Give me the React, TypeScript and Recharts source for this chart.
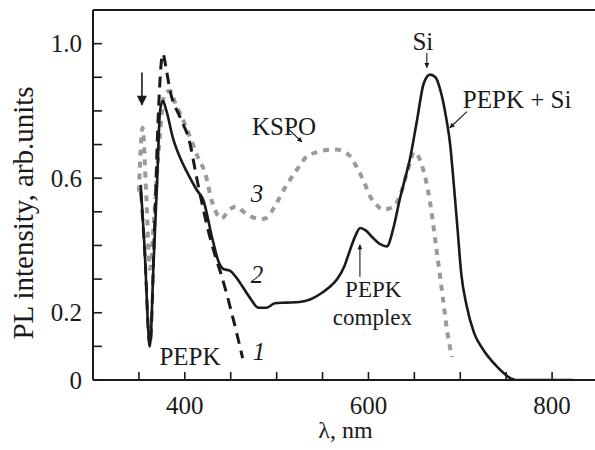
import React from 'react';
import { LineChart, Line, XAxis, YAxis, ReferenceLine, ReferenceDot } from 'recharts';

// ---- data ----
// curve 1: PEPK
const pepkNm = [352, 356, 362, 367, 371, 376, 380, 384, 395, 405, 413, 425, 433, 440, 451, 463];
const pepkPL = [0.56, 0.4, 0.1, 0.45, 0.78, 0.97, 0.92, 0.86, 0.78, 0.71, 0.6, 0.45, 0.37, 0.31, 0.2, 0.065];

// curve 2: PEPK + Si
const pepkSiNm = [352, 356, 362, 366, 370, 373, 376, 380, 387, 395, 402, 413, 420, 430, 437, 442, 449, 456, 463, 472, 480, 489, 498, 510, 525, 537, 547, 557, 566, 574, 580, 586, 591, 597, 604, 612, 620, 627, 634, 640, 645, 653, 660, 667, 673, 678, 685, 689, 693, 697, 701, 707, 715, 725, 740, 755, 760, 790, 823];
const pepkSiPL = [0.58, 0.4, 0.1, 0.35, 0.6, 0.8, 0.83, 0.8, 0.72, 0.66, 0.62, 0.565, 0.536, 0.42, 0.35, 0.33, 0.325, 0.305, 0.277, 0.24, 0.215, 0.215, 0.228, 0.23, 0.232, 0.24, 0.255, 0.275, 0.3, 0.34, 0.387, 0.43, 0.452, 0.445, 0.425, 0.405, 0.397, 0.45, 0.536, 0.6, 0.655, 0.774, 0.88, 0.908, 0.9, 0.865, 0.774, 0.7, 0.58, 0.45, 0.318, 0.22, 0.14, 0.09, 0.04, 0.005, 0, 0, 0];

// curve 3: KSPO
const kspoNm = [350, 354, 358, 362, 367, 372, 378, 384, 390, 398, 406, 414, 422, 430, 440, 448, 456, 464, 473, 482, 489, 500, 511, 522, 533, 545, 555, 565, 572, 580, 587, 595, 602, 609, 616, 627, 634, 642, 650, 658, 667, 674, 681, 686, 691];
const kspoPL = [0.56, 0.75, 0.55, 0.33, 0.5, 0.7, 0.85, 0.86, 0.82, 0.774, 0.72, 0.664, 0.616, 0.527, 0.48, 0.505, 0.516, 0.5, 0.485, 0.478, 0.482, 0.527, 0.58, 0.625, 0.665, 0.678, 0.684, 0.685, 0.68, 0.665, 0.634, 0.59, 0.545, 0.52, 0.506, 0.515, 0.545, 0.616, 0.678, 0.64, 0.53, 0.39, 0.245, 0.14, 0.068];

const xTicks = [350, 400, 450, 500, 550, 600, 650, 700, 750, 800];
const xTickLabels: Record<number, string> = { 400: '400', 600: '600', 800: '800' };
const yTicks = [0, 0.1, 0.2, 0.3, 0.4, 0.5, 0.6, 0.7, 0.8, 0.9, 1.0];
const yTickLabels = [
  { v: 0, t: '0' },
  { v: 0.2, t: '0.2' },
  { v: 0.6, t: '0.6' },
  { v: 1.0, t: '1.0' },
];

// annotation texts (anchored in data coordinates)
const notes = [
  { text: 'KSPO', nm: 508, pl: 0.729, anchor: 'middle', italic: false, size: 25 },
  { text: '3', nm: 478.5, pl: 0.53, anchor: 'middle', italic: true, size: 25 },
  { text: '2', nm: 478.5, pl: 0.289, anchor: 'middle', italic: true, size: 25 },
  { text: '1', nm: 480.7, pl: 0.06, anchor: 'middle', italic: true, size: 25 },
  { text: 'PEPK', nm: 405.6, pl: 0.045, anchor: 'middle', italic: false, size: 25 },
  { text: 'PEPK', nm: 605.2, pl: 0.247, anchor: 'middle', italic: false, size: 23 },
  { text: 'complex', nm: 604.3, pl: 0.164, anchor: 'middle', italic: false, size: 23 },
  { text: 'Si', nm: 659.3, pl: 0.982, anchor: 'middle', italic: false, size: 25 },
  { text: 'PEPK + Si', nm: 702.8, pl: 0.81, anchor: 'start', italic: false, size: 25 },
];

// arrows: from -> to (data coordinates)
const arrows = [
  { from: { x: 353.3, y: 0.914 }, to: { x: 353.3, y: 0.818 }, big: true },
  { from: { x: 512.3, y: 0.747 }, to: { x: 527.5, y: 0.708 }, big: false },
  { from: { x: 590.7, y: 0.307 }, to: { x: 590.7, y: 0.402 }, big: false },
  { from: { x: 663.6, y: 0.973 }, to: { x: 663.6, y: 0.929 }, big: false },
  { from: { x: 707.2, y: 0.798 }, to: { x: 688.7, y: 0.75 }, big: false },
];

const toSeries = (nm: number[], pl: number[]) => nm.map((x, i) => ({ nm: x, pl: pl[i] }));
const pepk = toSeries(pepkNm, pepkPL);
const pepkSi = toSeries(pepkSiNm, pepkSiPL);
const kspo = toSeries(kspoNm, kspoPL);

const FONT = '"Liberation Serif", "Times New Roman", Times, serif';
const INK = '#1a1a1a';
const txtStyle = { fontFamily: FONT };

const YTick = (props: any) => {
  const { x, y, payload } = props;
  const lab = yTickLabels.find((l) => Math.abs(l.v - payload.value) < 1e-6);
  return (
    <g>
      <line x1={x} y1={y} x2={x + 9} y2={y} stroke={INK} strokeWidth={1.6} />
      {lab && (
        <text x={x - 11} y={y} dy="0.35em" textAnchor="end" style={txtStyle} fontSize={25} fill={INK}>
          {lab.t}
        </text>
      )}
    </g>
  );
};

const XTick = (props: any) => {
  const { x, y, payload } = props;
  const lab = xTickLabels[payload.value];
  return (
    <g>
      <line x1={x} y1={y} x2={x} y2={y - 8} stroke={INK} strokeWidth={1.6} />
      {lab && (
        <text x={x} y={y + 34} textAnchor="middle" style={txtStyle} fontSize={25} fill={INK}>
          {lab}
        </text>
      )}
    </g>
  );
};

const arrowShape = (big: boolean) => (p: any) => (
  <line
    x1={p.x1}
    y1={p.y1}
    x2={p.x2}
    y2={p.y2}
    stroke={INK}
    strokeWidth={big ? 1.6 : 1.1}
    markerEnd={big ? 'url(#ahBig)' : 'url(#ahSmall)'}
  />
);

export default function App() {
  return (
    <div style={{ position: 'absolute', left: 0, top: 0, width: 595, height: 450, overflow: 'hidden', background: '#fff' }}>
      <svg width={0} height={0} style={{ position: 'absolute' }}>
        <defs>
          <marker id="ahBig" viewBox="0 0 10 10" refX="9" refY="5" markerWidth="13" markerHeight="10" orient="auto" markerUnits="userSpaceOnUse">
            <path d="M0,0 L10,5 L0,10 z" fill={INK} />
          </marker>
          <marker id="ahSmall" viewBox="0 0 10 10" refX="9" refY="5" markerWidth="6" markerHeight="5" orient="auto" markerUnits="userSpaceOnUse">
            <path d="M0,0 L10,5 L0,10 z" fill={INK} />
          </marker>
        </defs>
      </svg>
      <LineChart width={600} height={450} margin={{ top: 10, right: 2, left: 13, bottom: 30 }}>
        <XAxis
          type="number"
          dataKey="nm"
          domain={[300, 850]}
          ticks={xTicks}
          interval={0}
          height={40}
          tickSize={0}
          tickMargin={0}
          tickLine={false}
          axisLine={{ stroke: INK, strokeWidth: 2 }}
          tick={<XTick />}
          allowDataOverflow
          label={{
            content: (p: any) => (
              <text
                x={p.viewBox.x + p.viewBox.width / 2}
                y={p.viewBox.y + 58}
                textAnchor="middle"
                style={txtStyle}
                fontSize={24}
                fill={INK}
              >
                λ, nm
              </text>
            ),
          }}
        />
        <YAxis
          type="number"
          domain={[0, 1.1]}
          ticks={yTicks}
          interval={0}
          width={80}
          tickSize={0}
          tickMargin={0}
          tickLine={false}
          axisLine={{ stroke: INK, strokeWidth: 2 }}
          tick={<YTick />}
          allowDataOverflow
          label={{
            content: (p: any) => {
              const cx = p.viewBox.x + 20;
              const cy = p.viewBox.y + 203;
              return (
                <text
                  x={cx}
                  y={cy}
                  transform={`rotate(-90, ${cx}, ${cy})`}
                  textAnchor="middle"
                  style={txtStyle}
                  fontSize={29}
                  fill={INK}
                >
                  PL intensity, arb.units
                </text>
              );
            },
          }}
        />
        <ReferenceLine y={1.1} stroke={INK} strokeWidth={2} ifOverflow="visible" />
        <Line
          data={kspo}
          dataKey="pl"
          type="monotone"
          stroke="#9a9a9a"
          strokeWidth={4}
          strokeDasharray="6 6"
          dot={false}
          isAnimationActive={false}
        />
        <Line
          data={pepk}
          dataKey="pl"
          type="monotone"
          stroke={INK}
          strokeWidth={3}
          strokeDasharray="11 7"
          dot={false}
          isAnimationActive={false}
        />
        <Line
          data={pepkSi}
          dataKey="pl"
          type="monotone"
          stroke={INK}
          strokeWidth={2.6}
          dot={false}
          isAnimationActive={false}
        />
        {arrows.map((a, i) => (
          <ReferenceLine
            key={`ar${i}`}
            segment={[a.from, a.to]}
            ifOverflow="visible"
            shape={arrowShape(a.big)}
          />
        ))}
        {notes.map((n, i) => (
          <ReferenceDot
            key={`n${i}`}
            x={n.nm}
            y={n.pl}
            r={0}
            ifOverflow="visible"
            shape={(p: any) => (
              <text
                x={p.cx}
                y={p.cy}
                textAnchor={n.anchor as any}
                style={{ fontFamily: FONT, fontStyle: n.italic ? 'italic' : 'normal' }}
                fontSize={n.size}
                fill={INK}
              >
                {n.text}
              </text>
            )}
          />
        ))}
      </LineChart>
    </div>
  );
}
